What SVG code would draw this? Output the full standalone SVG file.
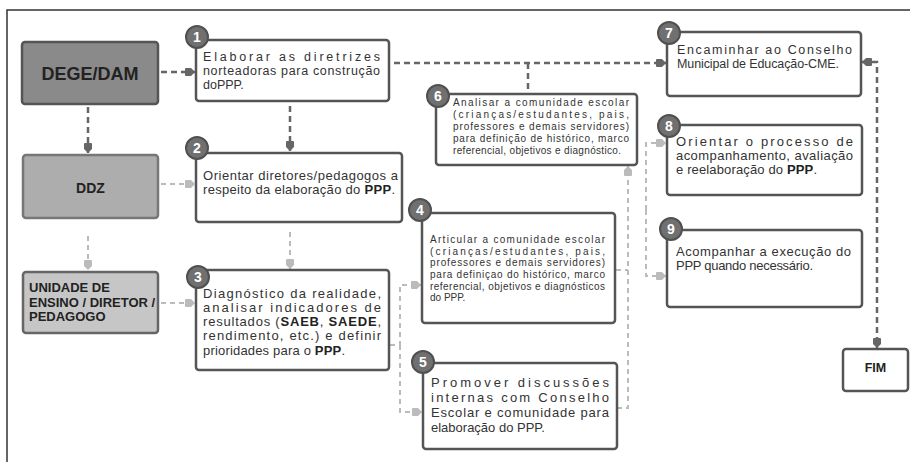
<svg xmlns="http://www.w3.org/2000/svg" width="910" height="462" viewBox="0 0 910 462">
<defs>
<style>
.box{fill:#fff;stroke:#555;stroke-width:2.5}
.num circle{fill:#707070;stroke:#505050;stroke-width:2}
.num text{fill:#fff;font:bold 14px "Liberation Sans",Arial,sans-serif;text-anchor:middle}
.t{fill:#333;font-family:"Liberation Sans",Arial,sans-serif}
.t13{font-size:13px}
.t12{font-size:12.5px}
.t10{font-size:10px}
.b{font-weight:bold;fill:#222}
.dk{fill:none;stroke:#666;stroke-width:2.5;stroke-dasharray:6 4}
.lt{fill:none;stroke:#bbb;stroke-width:2;stroke-dasharray:5 4}
</style>
<marker id="ad" markerUnits="userSpaceOnUse" markerWidth="11" markerHeight="9" refX="10" refY="4.5" orient="auto">
<path d="M0,1.5 Q0,0.5 1,0.5 L6,0.5 L10,4.5 L6,8.5 L1,8.5 Q0,8.5 0,7.5 Z" fill="#666"/>
</marker>
<marker id="al" markerUnits="userSpaceOnUse" markerWidth="11" markerHeight="9" refX="10" refY="4.5" orient="auto">
<path d="M0,1.5 Q0,0.5 1,0.5 L6,0.5 L10,4.5 L6,8.5 L1,8.5 Q0,8.5 0,7.5 Z" fill="#bbb"/>
</marker>
<marker id="adr" markerUnits="userSpaceOnUse" markerWidth="11" markerHeight="9" refX="0" refY="4.5" orient="auto">
<path d="M10,1.5 Q10,0.5 9,0.5 L4,0.5 L0,4.5 L4,8.5 L9,8.5 Q10,8.5 10,7.5 Z" fill="#666"/>
</marker>
</defs>

<g id="frame">
<path d="M7,462 V10 H910" fill="none" stroke="#333" stroke-width="1.5"/>
</g>

<g id="connectors">
<path class="dk" d="M161,72 H195" marker-end="url(#ad)"/>
<path class="dk" d="M88,107 V153" marker-end="url(#ad)"/>
<path class="dk" d="M290,106 V151" marker-end="url(#ad)"/>
<path class="lt" d="M161,184 H195" marker-end="url(#al)"/>
<path class="lt" d="M88,236 V270" marker-end="url(#al)"/>
<path class="lt" d="M290,232 V269" marker-end="url(#al)"/>
<path class="lt" d="M161,303 H195" marker-end="url(#al)"/>
<path class="lt" d="M390,345 H400 V285 H421" marker-end="url(#al)"/>
<path class="lt" d="M400,345 V412 H422" marker-end="url(#al)"/>
<path class="lt" d="M617,408 H628 V166" marker-end="url(#al)"/>
<path class="lt" d="M616,270 H628"/>
<path class="dk" d="M394,63 H666" marker-end="url(#ad)"/>
<path class="dk" d="M528,63 V93"/>
<path class="lt" d="M646,210 V143 H666" marker-end="url(#al)"/>
<path class="lt" d="M646,210 V276 H666" marker-end="url(#al)"/>
<path class="dk" d="M862,62 H877 V348" marker-start="url(#adr)" marker-end="url(#ad)"/>
</g>

<g id="dege">
<rect x="22" y="42" width="136" height="62" rx="3" fill="#8a8a8a" stroke="#555" stroke-width="2.5"/>
<text class="t b" x="90" y="80" font-size="18" text-anchor="middle">DEGE/DAM</text>
</g>

<g id="ddz">
<rect x="23" y="155" width="135" height="63" rx="3" fill="#adadad" stroke="#777" stroke-width="2.5"/>
<text class="t b" x="90.5" y="193" font-size="14" text-anchor="middle">DDZ</text>
</g>

<g id="unidade">
<rect x="23" y="272" width="135" height="61" rx="3" fill="#c6c6c6" stroke="#666" stroke-width="2.5"/>
<text class="t b" font-size="13"><tspan x="29" y="292">UNIDADE DE</tspan><tspan x="29" y="307">ENSINO / DIRETOR /</tspan><tspan x="29" y="321">PEDAGOGO</tspan></text>
</g>

<g id="n1">
<rect class="box" x="196" y="40" width="193" height="61" rx="3"/>
<g class="num"><circle cx="197" cy="37" r="11"/><text x="197" y="42">1</text></g>
<text class="t t12" x="203" y="61" textLength="177" lengthAdjust="spacing">Elaborar as diretrizes</text>
<text class="t t12" x="203" y="75" textLength="177" lengthAdjust="spacing">norteadoras para construção</text>
<text class="t t12" x="203" y="89">doPPP.</text>
</g>

<g id="n2">
<rect class="box" x="196" y="153" width="206" height="69" rx="3"/>
<g class="num"><circle cx="197" cy="148" r="11"/><text x="197" y="153">2</text></g>
<text class="t t13" x="203" y="179.5" textLength="195" lengthAdjust="spacing">Orientar diretores/pedagogos a</text>
<text class="t t13" x="203" y="193.5" textLength="192" lengthAdjust="spacing">respeito da elaboração do <tspan class="b">PPP</tspan>.</text>
</g>

<g id="n3">
<rect class="box" x="196" y="270" width="193" height="100" rx="3"/>
<g class="num"><circle cx="198" cy="277" r="11"/><text x="198" y="282">3</text></g>
<text class="t t13" x="203" y="297.5" textLength="178" lengthAdjust="spacing">Diagnóstico da realidade,</text>
<text class="t t13" x="203" y="311.5" textLength="178" lengthAdjust="spacing">analisar indicadores de</text>
<text class="t t13" x="203" y="326" textLength="178" lengthAdjust="spacing">resultados (<tspan class="b">SAEB</tspan>, <tspan class="b">SAEDE</tspan>,</text>
<text class="t t13" x="203" y="340" textLength="178" lengthAdjust="spacing">rendimento, etc.) e definir</text>
<text class="t t13" x="203" y="354.5" textLength="142" lengthAdjust="spacing">prioridades para o <tspan class="b">PPP</tspan>.</text>
</g>

<g id="n4">
<rect class="box" x="422" y="213" width="193" height="110" rx="3"/>
<g class="num"><circle cx="420" cy="210" r="11"/><text x="420" y="215">4</text></g>
<text class="t t10" x="430" y="242.5" textLength="175" lengthAdjust="spacing">Articular a comunidade escolar</text>
<text class="t t10" x="430" y="254.5" textLength="175" lengthAdjust="spacing">(crianças/estudantes, pais,</text>
<text class="t t10" x="430" y="266" textLength="175" lengthAdjust="spacing">professores e demais servidores)</text>
<text class="t t10" x="430" y="277.5" textLength="175" lengthAdjust="spacing">para definiçao do histórico, marco</text>
<text class="t t10" x="430" y="289.5" textLength="175" lengthAdjust="spacing">referencial, objetivos e diagnósticos</text>
<text class="t t10" x="430" y="301">do PPP.</text>
</g>

<g id="n5">
<rect class="box" x="423" y="363" width="194" height="86" rx="3"/>
<g class="num"><circle cx="423" cy="362" r="11"/><text x="423" y="367">5</text></g>
<text class="t t13" x="431" y="386.5" textLength="178" lengthAdjust="spacing">Promover discussões</text>
<text class="t t13" x="431" y="401.5" textLength="178" lengthAdjust="spacing">internas com Conselho</text>
<text class="t t13" x="431" y="416.5" textLength="178" lengthAdjust="spacing">Escolar e comunidade para</text>
<text class="t t13" x="431" y="431.5">elaboração do PPP.</text>
</g>

<g id="n6">
<rect class="box" x="436" y="94" width="201" height="71" rx="3"/>
<g class="num"><circle cx="438" cy="96" r="11"/><text x="438" y="101">6</text></g>
<text class="t t10" x="453" y="106" textLength="176" lengthAdjust="spacing">Analisar a comunidade escolar</text>
<text class="t t10" x="453" y="118" textLength="176" lengthAdjust="spacing">(crianças/estudantes, pais,</text>
<text class="t t10" x="453" y="130" textLength="176" lengthAdjust="spacing">professores e demais servidores)</text>
<text class="t t10" x="453" y="142" textLength="176" lengthAdjust="spacing">para definição de histórico, marco</text>
<text class="t t10" x="453" y="154" textLength="168" lengthAdjust="spacing">referencial, objetivos e diagnóstico.</text>
</g>

<g id="n7">
<rect class="box" x="667" y="32" width="194" height="64" rx="3"/>
<g class="num"><circle cx="669" cy="33" r="11"/><text x="669" y="38">7</text></g>
<text class="t t12" x="677" y="53.5" textLength="175" lengthAdjust="spacing">Encaminhar ao Conselho</text>
<text class="t t12" x="677" y="67.5" textLength="162" lengthAdjust="spacing">Municipal de Educação-CME.</text>
</g>

<g id="n8">
<rect class="box" x="667" y="125" width="195" height="70" rx="3"/>
<g class="num"><circle cx="669" cy="126" r="11"/><text x="669" y="131">8</text></g>
<text class="t t13" x="676" y="145.5" textLength="177" lengthAdjust="spacing">Orientar o processo de</text>
<text class="t t13" x="676" y="159.5" textLength="177" lengthAdjust="spacing">acompanhamento, avaliação</text>
<text class="t t13" x="676" y="173.5" textLength="141" lengthAdjust="spacing">e reelaboração do <tspan class="b">PPP</tspan>.</text>
</g>

<g id="n9">
<rect class="box" x="667" y="230" width="195" height="77" rx="3"/>
<g class="num"><circle cx="671" cy="229" r="11"/><text x="671" y="234">9</text></g>
<text class="t t13" x="676" y="255.5" textLength="175" lengthAdjust="spacing">Acompanhar a execução do</text>
<text class="t t13" x="676" y="269.5" textLength="137" lengthAdjust="spacing">PPP quando necessário.</text>
</g>

<g id="fim">
<rect class="box" x="843" y="349" width="65" height="42" rx="3"/>
<text class="t b" x="875.5" y="371.5" font-size="12.5" text-anchor="middle">FIM</text>
</g>
</svg>
